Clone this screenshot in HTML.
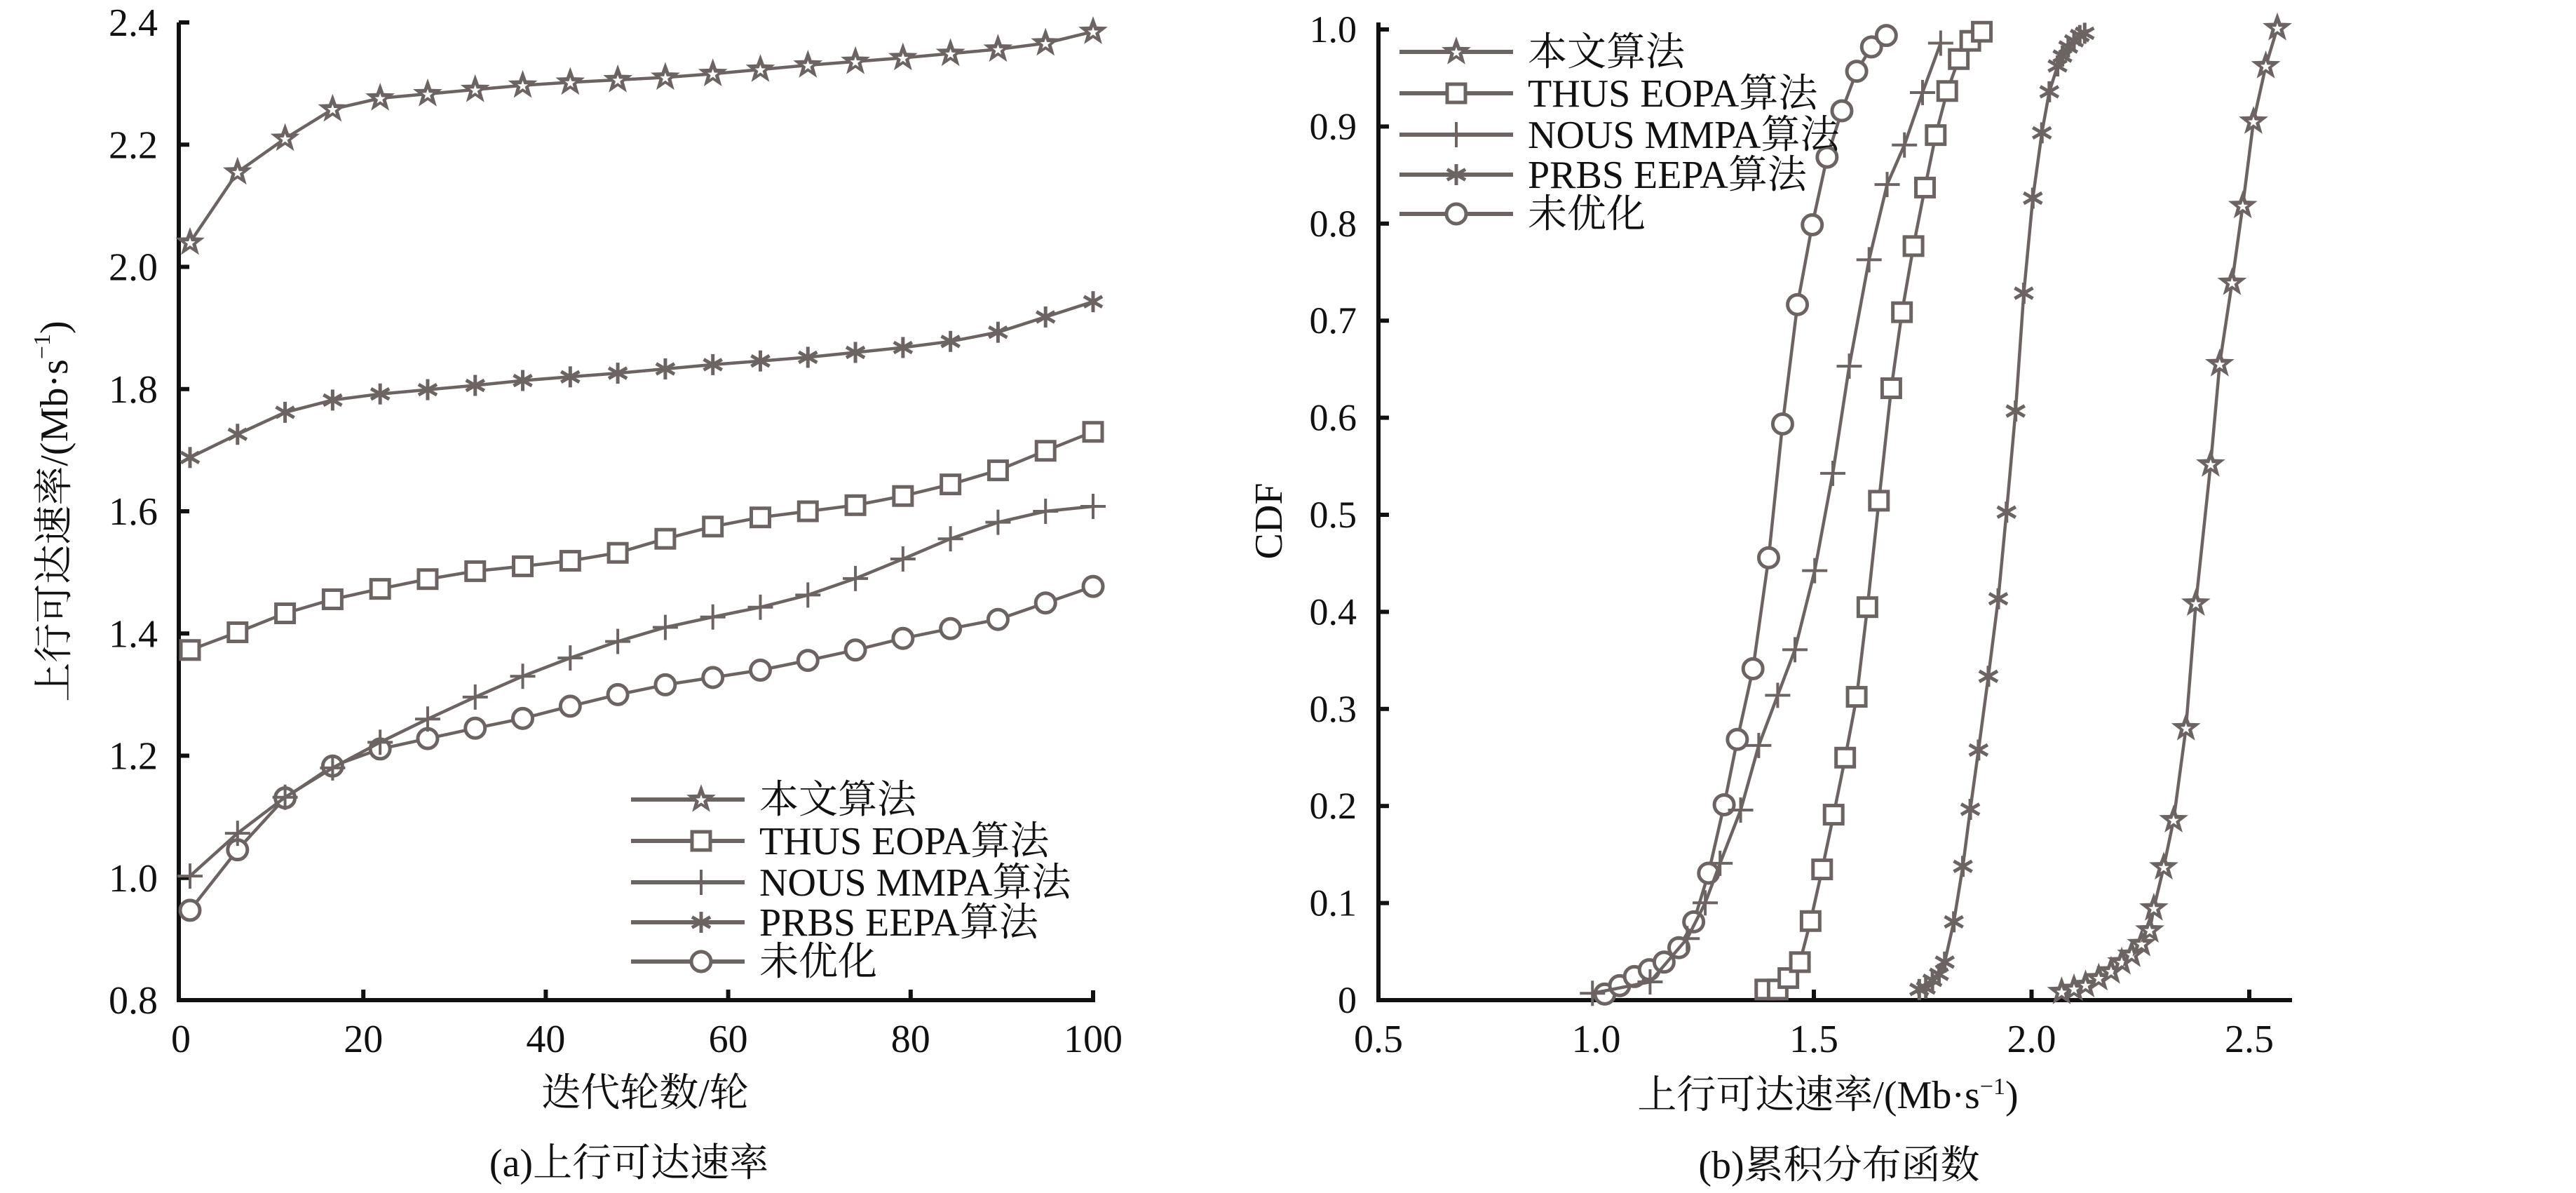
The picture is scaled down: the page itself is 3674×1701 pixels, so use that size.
<!DOCTYPE html>
<html><head><meta charset="utf-8">
<style>
html,body{margin:0;padding:0;background:#fff;}
svg{display:block;}
text{font-family:"Liberation Serif","Noto Serif CJK SC","Noto Sans CJK SC",serif;fill:#111;}
</style></head>
<body>
<svg id="s" width="3674" height="1701" viewBox="0 0 3674 1701" xmlns="http://www.w3.org/2000/svg">
<rect width="3674" height="1701" fill="#fff"/>
<g id="g"></g>
<text x="83" y="729" font-size="56" text-anchor="middle" dominant-baseline="middle" transform="rotate(-90 83 729)">上行可达速率/(Mb·s<tspan font-size="34" dy="-20">−1</tspan><tspan dy="20">)</tspan></text>
<text x="920" y="1577" font-size="56" text-anchor="middle">迭代轮数/轮</text>
<text x="897" y="1677" font-size="56" text-anchor="middle">(a)上行可达速率</text>
<text x="1815" y="743" font-size="56" text-anchor="middle" dominant-baseline="middle" transform="rotate(-90 1815 743)">CDF</text>
<text x="2607" y="1580" font-size="56" text-anchor="middle">上行可达速率/(Mb·s<tspan font-size="34" dy="-20">−1</tspan><tspan dy="20">)</tspan></text>
<text x="2623" y="1680" font-size="56" text-anchor="middle">(b)累积分布函数</text>
</svg>
<script>
var NS="http://www.w3.org/2000/svg";
var G=document.getElementById('g');
var C="#6b6462";
function el(t,a,p){var e=document.createElementNS(NS,t);for(var k in a)e.setAttribute(k,a[k]);(p||G).appendChild(e);return e;}
function txt(x,y,s,fs,anc){var e=el('text',{x:x,y:y,'font-size':fs,'text-anchor':anc||'middle'});e.textContent=s;return e;}
function starPts(cx,cy,R,r){var p=[];for(var i=0;i<10;i++){var a=-Math.PI/2+i*Math.PI/5;var rr=i%2?r:R;p.push((cx+rr*Math.cos(a)).toFixed(1)+','+(cy+rr*Math.sin(a)).toFixed(1));}return p.join(' ');}
function marker(type,x,y,sc){sc=sc||1;
 if(type=='star'){el('polygon',{points:starPts(x,y,22*sc,9*sc),fill:C});el('polygon',{points:starPts(x,y+1,8*sc,3.3*sc),fill:'#fff'});}
 else if(type=='sq'){var h=13*sc;el('rect',{x:x-h,y:y-h,width:2*h,height:2*h,fill:'#fff',stroke:C,'stroke-width':5});}
 else if(type=='circ'){el('circle',{cx:x,cy:y,r:14*sc,fill:'#fff',stroke:C,'stroke-width':5});}
 else if(type=='plus'){var h=18*sc;el('line',{x1:x-h,y1:y,x2:x+h,y2:y,stroke:C,'stroke-width':4});el('line',{x1:x,y1:y-h,x2:x,y2:y+h,stroke:C,'stroke-width':4});}
 else if(type=='ast'){var h=15*sc;el('line',{x1:x,y1:y-h,x2:x,y2:y+h,stroke:C,'stroke-width':5});
  var d=h*0.87,e=h*0.5;el('line',{x1:x-d,y1:y-e,x2:x+d,y2:y+e,stroke:C,'stroke-width':5});el('line',{x1:x-d,y1:y+e,x2:x+d,y2:y-e,stroke:C,'stroke-width':5});}
}
function series(pts,type){el('polyline',{points:pts.map(function(p){return p[0].toFixed(1)+','+p[1].toFixed(1)}).join(' '),fill:'none',stroke:C,'stroke-width':4.5,'stroke-linejoin':'round'});
 pts.forEach(function(p){marker(type,p[0],p[1]);});}
function legend(x1,x2,mx,tx,rows,fs){var names=['本文算法','THUS EOPA算法','NOUS MMPA算法','PRBS EEPA算法','未优化'];var types=['star','sq','plus','ast','circ'];
 for(var i=0;i<5;i++){var y=rows[i];el('line',{x1:x1,y1:y,x2:x2,y2:y,stroke:C,'stroke-width':6});marker(types[i],mx,y);txt(tx,y+19,names[i],fs,'start');}}
// LEFT
var LX=function(v){return 258+v*13.01}, LY=function(v){return 1426-(v-0.8)*871.25};
el('polyline',{points:'255,32 255,1426 1559,1426 1559,1412',fill:'none',stroke:'#111','stroke-width':6});
el('line',{x1:255,y1:32,x2:270,y2:32,stroke:'#111','stroke-width':6});
for(var v=0.8;v<2.41;v+=0.2){var y=LY(v);el('line',{x1:255,y1:y,x2:270,y2:y,stroke:'#111','stroke-width':6});txt(225,y+19,v.toFixed(1),56,'end');}
for(var t=0;t<=100;t+=20){var x=LX(t);if(t>0&&t<100)el('line',{x1:x,y1:1426,x2:x,y2:1411,stroke:'#111','stroke-width':6});txt(x,1500,String(t),56);}
var xs=[];for(var i=0;i<20;i++)xs.push(1+i*99/19);
var Ld={
 circ:[0.947,1.046,1.131,1.183,1.211,1.228,1.245,1.261,1.281,1.3,1.316,1.328,1.34,1.356,1.373,1.392,1.408,1.423,1.45,1.477],
 plus:[1.003,1.073,1.132,1.18,1.222,1.26,1.296,1.33,1.36,1.387,1.41,1.427,1.443,1.463,1.49,1.522,1.555,1.582,1.6,1.608],
 sq:[1.373,1.402,1.433,1.456,1.473,1.489,1.502,1.51,1.519,1.532,1.555,1.575,1.59,1.6,1.61,1.625,1.644,1.667,1.699,1.73],
 ast:[1.688,1.726,1.762,1.782,1.792,1.799,1.806,1.814,1.82,1.826,1.833,1.84,1.846,1.852,1.86,1.868,1.878,1.893,1.918,1.943],
 star:[2.04,2.155,2.21,2.258,2.276,2.283,2.29,2.297,2.302,2.306,2.31,2.316,2.323,2.33,2.336,2.342,2.349,2.356,2.366,2.385]};
['circ','plus','sq','ast','star'].forEach(function(k){series(Ld[k].map(function(v,i){return [LX(xs[i]),LY(v)]}),k);});
legend(900,1062,1000,1083,[1140,1199,1258,1315,1371],56);
// RIGHT
var RXv=function(v){return 1966+(v-0.5)*621}, RYv=function(v){return 1426-v*1384};
el('polyline',{points:'1966,32 1966,1426 3269,1426',fill:'none',stroke:'#111','stroke-width':6});
for(var i=0;i<=10;i++){var v=i/10,y=RYv(v);if(i>0)el('line',{x1:1966,y1:y,x2:1981,y2:y,stroke:'#111','stroke-width':6});txt(1935,y+18,i==0?'0':v.toFixed(1),54,'end');}
for(var i=0;i<5;i++){var v=0.5+i*0.5,x=RXv(v);if(i>0)el('line',{x1:x,y1:1426,x2:x,y2:1411,stroke:'#111','stroke-width':6});txt(x,1500,v.toFixed(1),56);}
function Z(a){return a.map(function(p){return [1966+(p[0]-115)*1.174,1426-(1314-p[1])*1.0838]});}
var Rd={
 circ:[[390,1306],[408,1295],[426,1283],[444,1274],[462,1264],[480,1245],[498,1211],[516,1147],[535,1057],[551,971],[570,878],[589,732],[606,556],[624,399],[642,294],[660,205],[678,144],[696,92],[714,60],[732,45]],
 plus:[[375,1305],[445,1290],[490,1233],[512,1186],[530,1134],[555,1064],[577,979],[600,913],[621,853],[645,749],[667,621],[687,480],[711,340],[733,241],[754,189],[776,120],[798,55]],
 sq:[[585,1300],[600,1300],[613,1285],[627,1264],[640,1210],[654,1142],[668,1070],[682,995],[696,915],[709,797],[723,657],[738,509],[751,409],[765,322],[779,245],[792,176],[806,118],[820,76],[834,52],[848,40]],
 ast:[[772,1300],[780,1298],[788,1288],[796,1280],[803,1264],[814,1211],[825,1138],[834,1063],[844,985],[856,888],[868,786],[878,672],[889,539],[899,384],[910,259],[921,173],[930,119],[940,85],[946,72],[953,60],[960,52],[967,45],[973,42]],
 star:[[945,1303],[960,1299],[974,1294],[990,1285],[1005,1276],[1018,1264],[1030,1254],[1042,1240],[1052,1222],[1057,1193],[1069,1139],[1081,1077],[1096,956],[1108,792],[1126,609],[1137,477],[1152,370],[1165,269],[1178,158],[1193,85],[1207,35]]};
['circ','plus','sq','ast','star'].forEach(function(k){series(Z(Rd[k]),k);});
legend(1996,2158,2077,2179,[74,133,192,249,305],56);
</script>
</body></html>
